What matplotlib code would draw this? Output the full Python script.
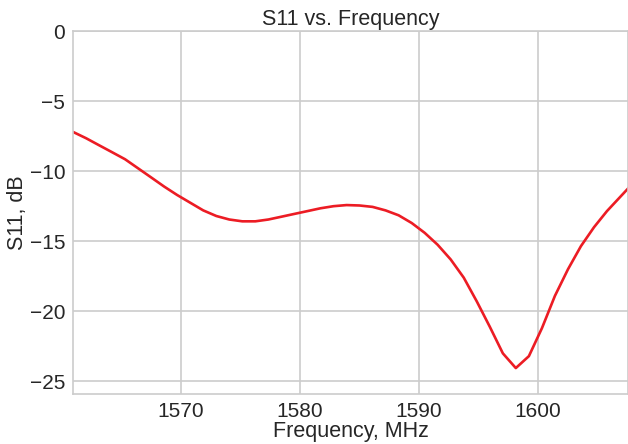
import matplotlib
matplotlib.use("Agg")
import matplotlib.pyplot as plt
import seaborn as sns

# S11 readings taken off the reference curve
freq_mhz = [1560.90, 1562.00, 1563.09, 1564.19, 1565.28, 1566.38, 1567.48, 1568.57,
            1569.66, 1570.76, 1571.86, 1572.96, 1574.05, 1575.15, 1576.24, 1577.34,
            1578.44, 1579.53, 1580.63, 1581.72, 1582.82, 1583.92, 1585.01, 1586.11,
            1587.20, 1588.30, 1589.40, 1590.49, 1591.58, 1592.68, 1593.78, 1594.88,
            1595.97, 1597.07, 1598.16, 1599.26, 1600.36, 1601.45, 1602.55, 1603.64,
            1604.74, 1605.83, 1606.93, 1608.03]
s11_db = [-7.20, -7.65, -8.15, -8.65, -9.15, -9.80, -10.45, -11.10,
          -11.70, -12.25, -12.80, -13.20, -13.45, -13.58, -13.58, -13.45,
          -13.25, -13.05, -12.85, -12.65, -12.50, -12.42, -12.45, -12.55,
          -12.80, -13.15, -13.70, -14.40, -15.25, -16.30, -17.60, -19.30,
          -21.10, -23.00, -24.05, -23.20, -21.20, -18.90, -17.00, -15.35,
          -14.00, -12.85, -11.85, -10.85]

x_ticks = [1570, 1580, 1590, 1600]
y_ticks = [0, -5, -10, -15, -20, -25]

sns.set_style("whitegrid")
plt.rcParams['font.family'] = ['Liberation Sans', 'DejaVu Sans']

fig = plt.figure(figsize=(6.28, 4.44), dpi=100)
ax = fig.add_axes([73 / 628, 50 / 444, 555 / 628, 363 / 444])

ax.plot(freq_mhz, s11_db, color='#ec1c24', linewidth=1.9)

ax.set_xlim(1560.9, 1607.6)
ax.set_ylim(-25.9, 0)
ax.set_xticks(x_ticks)
ax.set_yticks(y_ticks)
ax.tick_params(labelsize=15, colors='#262626', pad=2)
ax.grid(True, color='#cccccc', linewidth=1.2)
for side in ['left', 'bottom', 'top', 'right']:
    ax.spines[side].set_color('#cccccc')
    ax.spines[side].set_linewidth(1.2)

ax.set_title('S11 vs. Frequency', fontsize=15.5, color='#262626', pad=4)
ax.set_xlabel('Frequency, MHz', fontsize=15.5, color='#262626', labelpad=0)
ax.set_ylabel('S11, dB', fontsize=15.5, color='#262626', labelpad=1)

fig.savefig("out.png", dpi=100)
